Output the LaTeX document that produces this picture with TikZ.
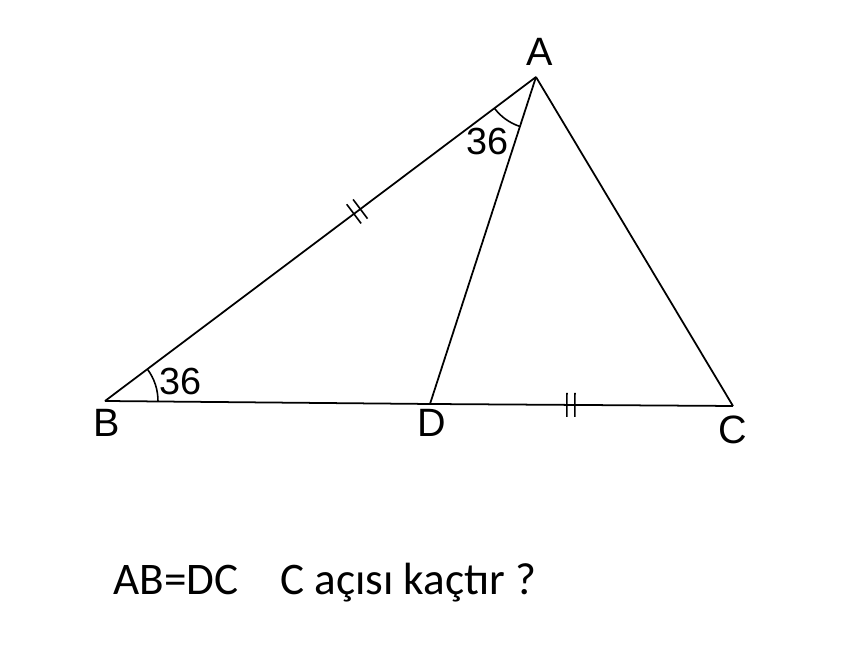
\documentclass[tikz,border=0pt]{standalone}
\usepackage{fontspec}
\setmainfont{Liberation Sans}
\newfontfamily\notefont{Carlito}
\usepackage{tikz}
\usetikzlibrary{angles, decorations.markings}
\tikzset{
  vtxlabel/.style={font=\fontsize{22.5}{26}\selectfont, inner sep=1pt},
  anglabel/.style={font=\fontsize{21.5}{25}\selectfont, inner sep=1pt},
  notetext/.style={font=\notefont\fontsize{25.7}{30}\selectfont, anchor=base west, inner sep=0pt},
  side/.style={line width=1pt, black},
  twotick/.style={postaction={decorate}, decoration={markings,
    mark=at position #1 with {\draw[line width=0.9pt] (-0.08,-0.24)--(-0.08,0.24) (0.08,-0.24)--(0.08,0.24);}}}
}

\begin{document}
\begin{tikzpicture}
  \useasboundingbox (0,0) rectangle (16.96,13.2);
  \coordinate (A) at (10.72,11.66);
  \coordinate (B) at (2.10,5.18);
  \coordinate (D) at (8.60,5.12);
  \coordinate (C) at (14.66,5.08);
  \draw[side, twotick=0.585] (B) -- (A);
  \draw[side] (A) -- (C);
  \draw[side] (A) -- (D);
  \draw[side] (B) -- (D);
  \draw[side, twotick=0.465] (D) -- (C);
  \pic[draw, line width=0.9pt, angle radius=1.04cm] {angle=B--A--D};
  \pic[draw, line width=0.9pt, angle radius=1.06cm] {angle=D--B--A};
  \node[vtxlabel] (lA) at (10.80,12.16) {A};
  \node[vtxlabel] (lB) at (2.14,4.74) {B};
  \node[vtxlabel] (lD) at (8.64,4.74) {D};
  \node[vtxlabel] (lC) at (14.66,4.60) {C};
  \node[anglabel] (aA) at (9.76,10.36) {36};
  \node[anglabel] (aB) at (3.62,5.56) {36};
  \node[notetext] (q1) at (2.26,1.30) {AB=DC};
  \node[notetext] (q2) at (5.60,1.30) {C açısı kaçtır ?};
\end{tikzpicture}
\end{document}
